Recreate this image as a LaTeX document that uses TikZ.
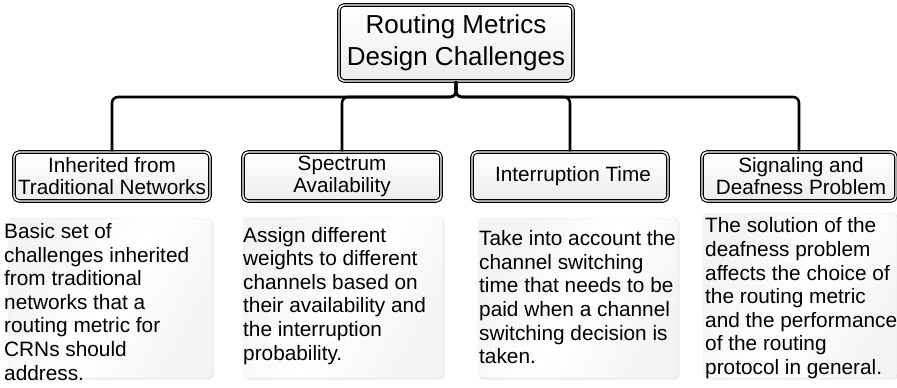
\documentclass[tikz,border=0pt]{standalone}
\usepackage{fontspec}
\setmainfont{Liberation Sans}
\usetikzlibrary{positioning, shadows, calc}

\tikzset{
  rootbox/.style={draw=black, line width=1.1pt, double=white, double distance=1.4pt,
    rounded corners=5pt, top color=white, bottom color=gray!14,
    drop shadow={opacity=0.3, shadow xshift=1.5pt, shadow yshift=-1.5pt},
    minimum width=234pt, minimum height=76pt, inner sep=0pt, align=center,
    font=\fontsize{26}{32}\selectfont},
  headbox/.style={draw=black, line width=1.1pt, double=white, double distance=1.4pt,
    rounded corners=5pt, top color=white, bottom color=gray!14,
    drop shadow={opacity=0.3, shadow xshift=1.5pt, shadow yshift=-1.5pt},
    minimum height=49pt, inner sep=0pt, align=center,
    font=\fontsize{20.7}{22}\selectfont},
  notebox/.style={draw=gray!20, line width=0.4pt, rounded corners=4pt,
    left color=gray!9, right color=gray!9, middle color=white, shading angle=60,
    drop shadow={opacity=0.15, shadow xshift=1.5pt, shadow yshift=-1.5pt},
    inner sep=0pt},
  notetext/.style={anchor=west, inner sep=0pt, align=left,
    font=\fontsize{20.8}{23.6}\selectfont},
  link/.style={line width=2.6pt, rounded corners=6pt},
}

\begin{document}
\begin{tikzpicture}[x=1pt, y=-1pt]
\useasboundingbox (0,0) rectangle (897,388);

% Root of the tree
\node[rootbox] (root) at (456,43) {Routing Metrics\\Design Challenges};
\coordinate (bus) at (456,97);

% Challenge headings
\node[headbox, minimum width=196pt] (c1) at (112,176.5) {Inherited from\\Traditional Networks};
\node[headbox, minimum width=198pt] (c2) at (342,176.5) {Spectrum\\Availability};
\node[headbox, minimum width=196pt] (c3) at (570,176.5) {\hspace*{6pt}Interruption Time};
\node[headbox, minimum width=194pt] (c4) at (799,176.5) {\hspace*{4pt}Signaling and\\\hspace*{4pt}Deafness Problem};

% Connectors
\foreach \c in {c1,c2,c3,c4}
  \draw[link] (root.south) -- (bus) -| (\c.north);

% Description panels
\node[notebox, minimum width=204pt, minimum height=160pt] (d1) at (110,298) {};
\node[notebox, minimum width=200pt, minimum height=161pt] (d2) at (343,297.5) {};
\node[notebox, minimum width=200pt, minimum height=160pt] (d3) at (578,298) {};
\node[notebox, minimum width=194pt, minimum height=165pt] (d4) at (800,295.5) {};

% Description texts
\node[notetext] (t1) at (4,301.8)
  {Basic set of\\challenges inherited\\from traditional\\networks that a\\routing metric for\\CRNs should\\address.};
\node[notetext] (t2) at (243,295.8)
  {Assign different\\weights to different\\channels based on\\their availability and\\the interruption\\probability.};
\node[notetext] (t3) at (479,297.3)
  {Take into account the\\channel switching\\time that needs to be\\paid when a channel\\switching decision is\\taken.};
\node[notetext] (t4) at (705,298.3)
  {The solution of the\\deafness problem\\affects the choice of\\the routing metric\\and the performance\\of the routing\\protocol in general.};
\end{tikzpicture}
\end{document}
